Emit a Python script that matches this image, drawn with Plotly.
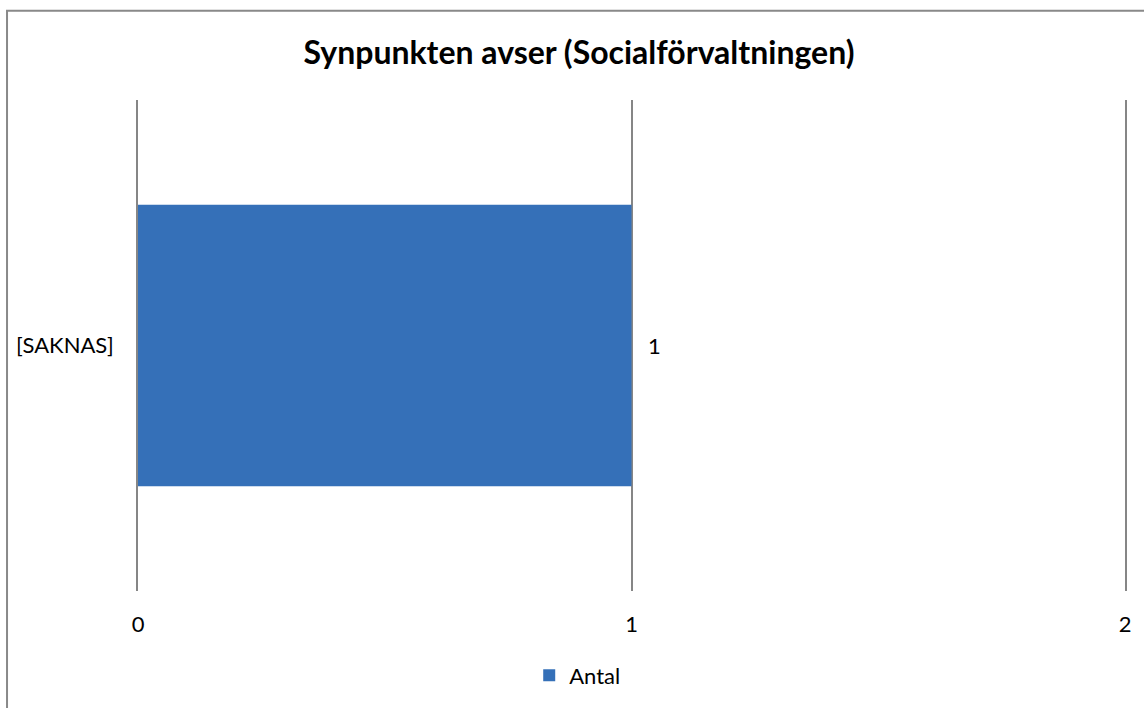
import plotly.graph_objects as go

# Chart data
categories = ["[SAKNAS]"]
antal = [1]
x_ticks = [0, 1, 2]
title_text = "Synpunkten avser (Socialförvaltningen)"
series_name = "Antal"

FONT = "Lato, Carlito, Calibri, sans-serif"
GRID = "#868686"
BAR = "#3570B8"

fig = go.Figure()
fig.add_trace(go.Bar(
    y=categories,
    x=antal,
    orientation="h",
    name=series_name,
    marker=dict(color=BAR, line=dict(width=0)),
    width=0.573,
))

# value labels next to the bar ends
for cat, val in zip(categories, antal):
    fig.add_annotation(
        x=val, y=cat, text=str(val), showarrow=False,
        xanchor="left", xshift=14, font=dict(family=FONT, size=22, color="#000000"),
    )

# outer chart border
fig.add_shape(
    type="rect", xref="paper", yref="paper",
    x0=-0.1327, x1=1.2, y0=-0.5, y1=1.182,
    line=dict(color="#898989", width=2), fillcolor="rgba(0,0,0,0)", layer="below",
)

fig.update_layout(
    width=1144, height=708,
    margin=dict(l=138, r=19, t=100, b=114),
    paper_bgcolor="white", plot_bgcolor="white",
    font=dict(family=FONT, size=22, color="#000000"),
    title=dict(text="<b>" + title_text + "</b>", x=579 / 1144, xref="container", xanchor="center",
               y=1 - 53 / 708, yanchor="middle",
               font=dict(family=FONT, size=32, color="#000000")),
    showlegend=True,
    legend=dict(orientation="h", x=0.445, xanchor="center", y=-0.172, yanchor="middle",
                font=dict(family=FONT, size=22), itemwidth=30),
    xaxis=dict(range=[0, 2], tickvals=x_ticks, showgrid=True, gridcolor=GRID, gridwidth=1.5,
               zeroline=False, showline=False, ticks="", ticklabelstandoff=18),
    # the vertical axis lines double as the gridlines at 0 and 2
    yaxis=dict(showgrid=False, zeroline=False, showline=True, mirror=True,
               linecolor=GRID, linewidth=1.5, ticks="", ticklabelstandoff=18),
)

fig.write_html("out.html")
